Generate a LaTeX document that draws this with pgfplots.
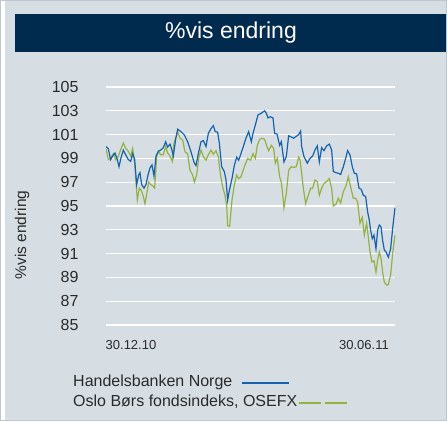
\documentclass[border=0pt]{standalone}
\usepackage{pgfplots}
\pgfplotsset{compat=1.18}
\usepackage{fontspec}
\setmainfont{Liberation Sans}
\definecolor{bgpanel}{RGB}{214,222,228}
\definecolor{bgedge}{RGB}{190,199,206}
\definecolor{navy}{RGB}{0,42,78}
\definecolor{hblue}{RGB}{20,98,176}
\definecolor{ogreen}{RGB}{147,179,62}
\definecolor{txt}{RGB}{42,42,42}
\begin{document}
\begin{tikzpicture}[x=1pt,y=1pt]
\fill[bgpanel] (5,0) rectangle (447,421);
\fill[white] (0,0) rectangle (5,421);
\fill[navy] (15,369) rectangle (447,407);
\node[white, font=\fontsize{23}{24}\selectfont] at (231,388) {\%vis endring};
\begin{axis}[
  at={(106pt,96pt)}, anchor=south west,
  scale only axis, width=289.3pt, height=238pt,
  xmin=318, xmax=1186, ymin=85, ymax=105,
  ytick={85,87,...,105},
  xtick={393,1092}, xticklabels={30.12.10,30.06.11},
  axis line style={draw=none},
  tick style={draw=none},
  ymajorgrids, grid style={white, line width=1.2pt},
  /pgf/number format/assume math mode=true,
  yticklabel style={font=\fontsize{16}{16}\selectfont, text=txt},
  xticklabel style={font=\fontsize{13}{13}\selectfont, text=txt},
  yticklabel shift=24pt,
  xticklabel shift=12pt,
]
\addplot[ogreen, line width=1.2pt] coordinates {
(318,99.8)(325,98.9)(332,99.05)(340,99.4)(347,98.9)(355,99.2)(363,99.8)(370,100.3)(377,99.85)(385,99.6)
(392,99.2)(398,99.85)(404,98.6)(412,95.5)(418,96.5)(424,96.3)(430,95.8)(435,95.2)(440,96.0)(446,97.0)
(452,96.8)(458,96.7)(464,96.5)(470,99.15)(476,99.6)(482,99.3)(490,99.3)(497,100.0)(503,99.45)(510,99.2)
(517,98.75)(522,100.3)(533,101.25)(540,100.7)(548,100.55)(555,99.55)(563,99.4)(570,98.0)(578,97.6)(583,97.0)
(590,97.6)(596,99.0)(603,99.7)(610,99.15)(618,98.85)(625,99.3)(633,99.7)(640,99.35)(648,99.65)(655,99.15)
(661,97.7)(668,96.6)(675,95.9)(680,95.05)(683,93.35)(689,93.3)(696,95.5)(703,96.75)(710,97.6)(716,97.3)
(723,97.45)(733,98.3)(743,99.0)(752,98.85)(759,99.4)(766,99.0)(772,100.1)(779,100.6)(786,100.7)(794,100.6)
(801,100.0)(806,99.65)(814,100.1)(821,99.85)(826,98.6)(832,99.0)(839,97.45)(844,97.0)(849,95.75)(852,94.85)
(859,96.05)(866,98.0)(874,98.3)(881,98.25)(889,98.3)(896,99.1)(900,98.9)(905,97.75)(910,96.5)(917,95.2)
(925,95.9)(932,96.5)(938,96.5)(945,97.2)(952,97.05)(958,95.9)(965,96.5)(972,96.9)(980,97.05)(988,97.3)
(995,96.5)(1000,95.0)(1008,95.15)(1015,95.65)(1022,95.25)(1030,96.2)(1037,96.6)(1045,97.45)(1052,96.6)(1060,95.65)
(1067,95.65)(1073,95.35)(1080,93.55)(1087,94.05)(1093,92.55)(1100,93.55)(1105,92.4)(1110,91.15)(1116,90.3)(1122,90.4)
(1128,89.45)(1133,90.45)(1138,91.15)(1143,90.6)(1148,89.45)(1153,88.6)(1160,88.35)(1165,88.4)(1172,89.2)(1178,91.0)
(1185,92.55)
};
\addplot[hblue, line width=1.2pt] coordinates {
(318,100.0)(325,99.8)(332,98.9)(338,99.2)(345,99.45)(352,98.9)(357,98.3)(363,99.05)(370,99.7)(377,99.3)
(385,98.9)(392,98.75)(398,99.4)(404,98.9)(410,96.8)(416,97.6)(420,97.8)(425,96.8)(432,96.5)(438,96.8)
(444,97.6)(450,98.2)(456,98.45)(462,97.5)(468,99.2)(475,99.6)(482,99.7)(490,99.9)(497,100.4)(503,99.95)
(510,100.2)(515,99.8)(520,99.2)(527,100.6)(533,101.45)(543,101.25)(553,100.97)(563,100.4)(573,99.55)(583,98.6)
(588,98.4)(595,99.4)(603,100.4)(610,100.5)(618,100.0)(625,101.1)(633,101.5)(640,101.75)(646,101.25)(653,101.2)
(658,100.3)(665,98.3)(673,97.9)(678,97.2)(683,95.5)(688,96.3)(696,97.3)(703,98.4)(710,99.1)(716,98.85)
(723,99.4)(730,100.0)(738,100.7)(746,101.25)(754,100.4)(759,101.1)(766,101.8)(774,102.65)(784,102.8)(794,103.0)
(799,102.8)(804,102.4)(811,102.5)(819,102.4)(824,101.1)(831,101.05)(839,100.1)(844,100.4)(852,98.7)(859,99.15)
(866,100.9)(874,100.8)(881,100.7)(889,100.85)(896,101.0)(902,101.3)(905,100.0)(912,99.15)(922,98.6)(930,99.0)
(938,99.2)(945,99.7)(952,100.05)(958,98.7)(965,99.9)(972,99.65)(980,100.05)(988,100.2)(995,99.7)(1000,97.9)
(1008,97.8)(1015,97.75)(1022,97.65)(1030,98.3)(1037,99.0)(1043,99.65)(1050,99.3)(1057,98.3)(1063,97.75)(1070,97.7)
(1077,96.5)(1084,96.4)(1090,95.9)(1097,95.8)(1103,94.5)(1108,93.8)(1112,92.95)(1117,92.25)(1122,92.55)(1128,91.4)
(1133,92.95)(1138,93.4)(1143,93.25)(1148,92.1)(1153,91.3)(1158,91.15)(1165,90.7)(1172,91.4)(1178,93.1)(1185,94.85)
};
\end{axis}
\node[rotate=90, text=txt, font=\fontsize{15.5}{16}\selectfont] at (22,186) {\%vis endring};
\node[anchor=west, inner sep=0pt, text=txt, font=\fontsize{16}{16}\selectfont] at (73,39) {Handelsbanken Norge};
\draw[hblue, line width=1.2pt] (242,38) -- (289,38);
\node[anchor=west, inner sep=0pt, text=txt, font=\fontsize{16}{16}\selectfont] at (73,19) {Oslo Børs fondsindeks, OSEFX};
\draw[ogreen, line width=1.2pt] (299,18) -- (321,18);
\draw[ogreen, line width=1.2pt] (325,18) -- (347,18);
\draw[bgedge, line width=1pt] (0.5,0.5) rectangle (446.5,420.5);
\end{tikzpicture}
\end{document}
